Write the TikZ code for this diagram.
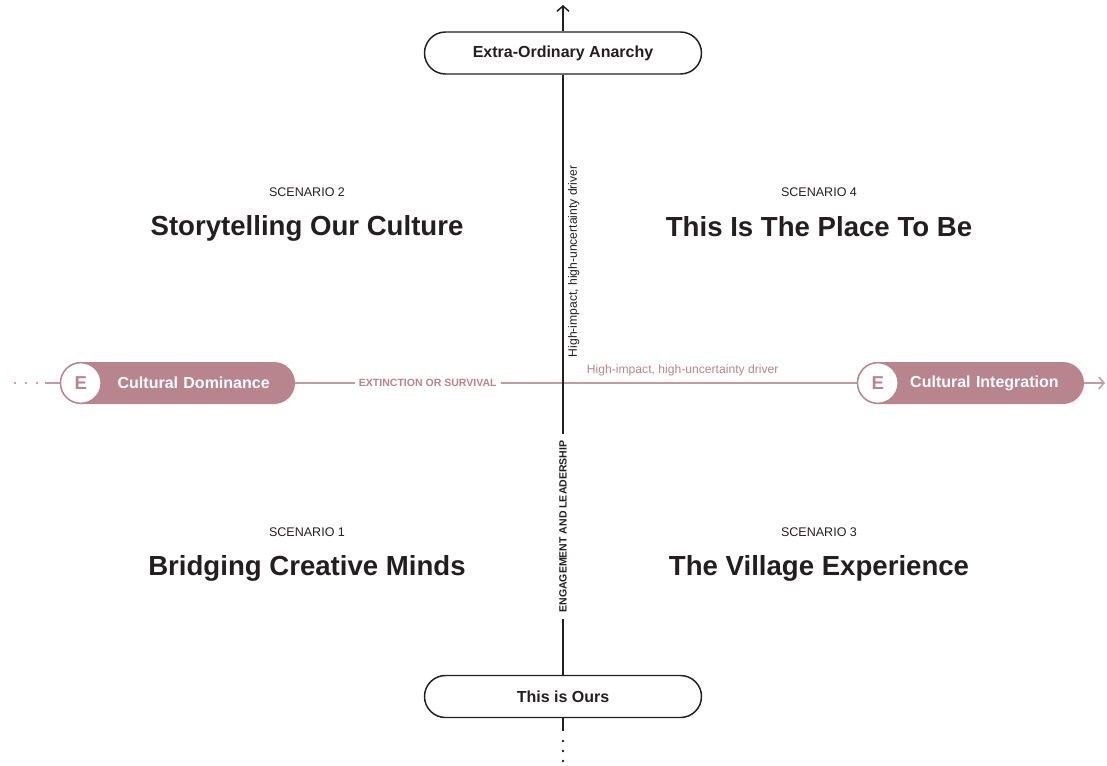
\documentclass[tikz,border=0pt]{standalone}
\usepackage{fontspec}
\setmainfont{Liberation Sans}
\usetikzlibrary{arrows.meta,positioning}
\definecolor{ink}{HTML}{231F20}
\definecolor{rose}{HTML}{B8848E}
\definecolor{roseline}{HTML}{C49AA2}
\tikzset{>={Straight Barb[length=4pt,width=9pt]},
pole/.style={draw=ink,line width=1.1pt,fill=white,rounded corners=15.75pt,minimum width=207.75pt,minimum height=31.5pt,font=\bfseries\fontsize{12}{14}\selectfont,text=ink},
camp/.style={fill=rose,rounded corners=15.75pt,minimum height=31.5pt,inner xsep=19pt,align=right,font=\bfseries\fontsize{12}{14}\selectfont,text=white},
badge/.style={circle,draw=rose,line width=1.1pt,fill=white,minimum size=30.5pt,inner sep=0pt,font=\bfseries\fontsize{14}{16}\selectfont,text=rose},
tag/.style={font=\fontsize{9.4}{11}\selectfont,text=ink},
title/.style={font=\bfseries\fontsize{20.7}{24}\selectfont,text=ink},
axislbl/.style={font=\bfseries\fontsize{7.9}{9}\selectfont},
driver/.style={font=\fontsize{9.1}{11}\selectfont}}
\begin{document}
\begin{tikzpicture}[x=.75pt,y=-.75pt]
\useasboundingbox (0,0) rectangle (1107,765);
% the two poles of the vertical driver
\node[pole] (anarchy) at (563,53) {Extra-Ordinary Anarchy};
\node[pole] (ours) at (563,696.5) {This is Ours};
% the two poles of the horizontal driver
\node[camp,text width=138.25pt] (dom) at (177.5,383) {Cultural Dominance};
\node[badge,anchor=west] (domE) at (dom.west) {E};
\node[camp,text width=132.25pt] (integ) at (970.5,383) {Cultural Integration};
\node[badge,anchor=west] (integE) at (integ.west) {E};
\coordinate (west) at (45,383);\coordinate (east) at (1105,383);
\coordinate (up) at (563,5);\coordinate (down) at (563,731);
% horizontal axis
\foreach \x in {15,26,37}{\fill[rose] (\x,383) circle(.9pt);}
\draw[roseline,line width=1.1pt] (west)--(domE);
\draw[roseline,line width=1.1pt] (dom)--node[pos=.236,fill=white,inner xsep=3pt,axislbl,text=rose]{EXTINCTION OR SURVIVAL}node[pos=.69,above=1pt,driver,text=rose]{High-impact, high-uncertainty driver}(integE);
\draw[->,roseline,line width=1.1pt] (integ)--(east);
% vertical axis
\draw[->,ink,line width=1.1pt] (anarchy)--(up);
\draw[ink,line width=1.1pt] (anarchy)--node[pos=.311,anchor=north,rotate=90,driver,text=ink]{High-impact, high-uncertainty driver}node[pos=.753,fill=white,inner xsep=5pt,rotate=90,axislbl,text=ink]{ENGAGEMENT AND LEADERSHIP}(ours);
\draw[ink,line width=1.1pt] (ours)--(down);
\foreach \y in {741,751,761}{\fill[ink] (563,\y) circle(1pt);}
% scenarios
\node[tag] (s2) at (307,192) {SCENARIO 2};\node[title] (t2) at (307,228) {Storytelling Our Culture};
\node[tag] (s4) at (819,192) {SCENARIO 4};\node[title] (t4) at (819,227) {This Is The Place To Be};
\node[tag] (s1) at (307,532) {SCENARIO 1};\node[title] (t1) at (307,568) {Bridging Creative Minds};
\node[tag] (s3) at (819,532) {SCENARIO 3};\node[title] (t3) at (819,568) {The Village Experience};
\end{tikzpicture}
\end{document}
